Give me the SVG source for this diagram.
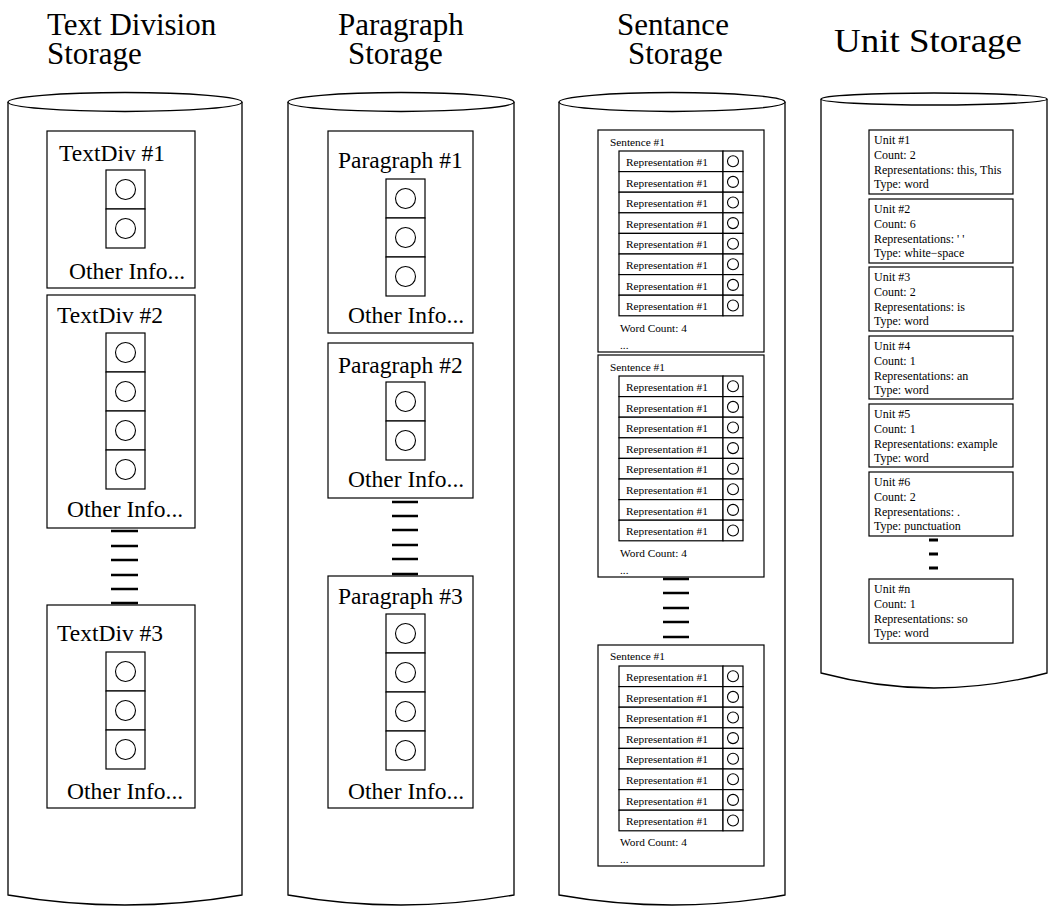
<svg xmlns="http://www.w3.org/2000/svg" xmlns:xlink="http://www.w3.org/1999/xlink" width="1056" height="910" viewBox="0 0 1056 910">
  <style>
    .cyl { fill: #fff; stroke: #000; stroke-width: 1.3; }
    .box { fill: #fff; stroke: #000; stroke-width: 1.2; }
    .cell { fill: #fff; stroke: #000; stroke-width: 1.2; }
    .ring { fill: none; stroke: #000; stroke-width: 1.1; }
    .dash { stroke: #000; stroke-width: 2.5; }
    text { font-family: "Liberation Serif", "Times New Roman", serif; fill: #000; }
    .title { font-size: 31px; }
    .lbl { font-size: 23.5px; }
    .sm { font-size: 11.3px; }
    .u { font-size: 12px; }
  </style>
  <defs>
    <!-- square slot with a circle, used in division / paragraph records -->
    <g id="slot">
      <rect class="cell" x="0" y="0" width="39" height="39"/>
      <circle class="ring" cx="19.5" cy="19.5" r="10"/>
    </g>
    <!-- one representation row of a sentence record -->
    <g id="rep">
      <rect class="cell" x="0" y="0" width="104" height="20.6"/>
      <rect class="cell" x="104" y="0" width="20" height="20.6"/>
      <text class="sm" x="7" y="15">Representation #1</text>
      <circle class="ring" cx="114" cy="10.3" r="5.5"/>
    </g>
  </defs>

  <rect width="1056" height="910" fill="#fff"/>

  <!-- column titles -->
  <g id="titles">
    <text class="title" x="47" y="35">Text Division</text>
    <text class="title" x="47" y="64">Storage</text>
    <text class="title" x="338" y="35">Paragraph</text>
    <text class="title" x="348" y="64">Storage</text>
    <text class="title" x="617" y="35">Sentance</text>
    <text class="title" x="628" y="64">Storage</text>
    <text class="title" x="834" y="52" style="font-size:33px" textLength="188" lengthAdjust="spacingAndGlyphs">Unit Storage</text>
  </g>

  <!-- storage cylinders -->
  <g id="cyl-textdiv">
    <path class="cyl" d="M8,102 L8,895 Q125,915 242,895 L242,102"/>
    <ellipse class="cyl" cx="125" cy="102" rx="117" ry="9.5"/>
  </g>
  <g id="cyl-paragraph">
    <path class="cyl" d="M288,102 L288,895 Q401,915 514,895 L514,102"/>
    <ellipse class="cyl" cx="401" cy="102" rx="113" ry="9.5"/>
  </g>
  <g id="cyl-sentence">
    <path class="cyl" d="M559,102 L559,895 Q672,915 785,895 L785,102"/>
    <ellipse class="cyl" cx="672" cy="102" rx="113" ry="9.5"/>
  </g>
  <g id="cyl-unit">
    <path class="cyl" d="M821,99 L821,673 Q934,703 1047,673 L1047,99"/>
    <ellipse class="cyl" cx="934" cy="99" rx="113" ry="6"/>
  </g>

  <!-- text division records -->
  <g id="textdiv-1">
    <rect class="box" x="47" y="131" width="148" height="157"/>
    <text class="lbl" x="59" y="161">TextDiv #1</text>
    <use href="#slot" x="106" y="170"/>
    <use href="#slot" x="106" y="209"/>
    <text class="lbl" x="69" y="279">Other Info...</text>
  </g>
  <g id="textdiv-2">
    <rect class="box" x="47" y="295" width="148" height="233"/>
    <text class="lbl" x="57" y="323">TextDiv #2</text>
    <use href="#slot" x="106" y="333"/>
    <use href="#slot" x="106" y="372"/>
    <use href="#slot" x="106" y="411"/>
    <use href="#slot" x="106" y="450"/>
    <text class="lbl" x="67" y="517">Other Info...</text>
  </g>
  <g id="textdiv-3">
    <rect class="box" x="47" y="605" width="148" height="203"/>
    <text class="lbl" x="57" y="641">TextDiv #3</text>
    <use href="#slot" x="106" y="652"/>
    <use href="#slot" x="106" y="691"/>
    <use href="#slot" x="106" y="730"/>
    <text class="lbl" x="67" y="799">Other Info...</text>
  </g>

  <!-- paragraph records -->
  <g id="paragraph-1">
    <rect class="box" x="328" y="131" width="145" height="202"/>
    <text class="lbl" x="338" y="168">Paragraph #1</text>
    <use href="#slot" x="386" y="179"/>
    <use href="#slot" x="386" y="218"/>
    <use href="#slot" x="386" y="257"/>
    <text class="lbl" x="348" y="323">Other Info...</text>
  </g>
  <g id="paragraph-2">
    <rect class="box" x="328" y="343" width="145" height="155"/>
    <text class="lbl" x="338" y="373">Paragraph #2</text>
    <use href="#slot" x="386" y="382"/>
    <use href="#slot" x="386" y="421"/>
    <text class="lbl" x="348" y="487">Other Info...</text>
  </g>
  <g id="paragraph-3">
    <rect class="box" x="328" y="576" width="145" height="232"/>
    <text class="lbl" x="338" y="604">Paragraph #3</text>
    <use href="#slot" x="386" y="614"/>
    <use href="#slot" x="386" y="653"/>
    <use href="#slot" x="386" y="692"/>
    <use href="#slot" x="386" y="731"/>
    <text class="lbl" x="348" y="799">Other Info...</text>
  </g>

  <!-- sentence records -->
  <g id="sentence-1">
    <rect class="box" x="598" y="130" width="166" height="222"/>
    <text class="sm" x="610" y="146">Sentence #1</text>
    <use href="#rep" x="619" y="151"/>
    <use href="#rep" x="619" y="171.6"/>
    <use href="#rep" x="619" y="192.2"/>
    <use href="#rep" x="619" y="212.8"/>
    <use href="#rep" x="619" y="233.4"/>
    <use href="#rep" x="619" y="254"/>
    <use href="#rep" x="619" y="274.6"/>
    <use href="#rep" x="619" y="295.2"/>
    <text class="sm" x="620" y="332">Word Count: 4</text>
    <text class="sm" x="620" y="349">...</text>
  </g>
  <g id="sentence-2">
    <rect class="box" x="598" y="355" width="166" height="222"/>
    <text class="sm" x="610" y="371">Sentence #1</text>
    <use href="#rep" x="619" y="376"/>
    <use href="#rep" x="619" y="396.6"/>
    <use href="#rep" x="619" y="417.2"/>
    <use href="#rep" x="619" y="437.8"/>
    <use href="#rep" x="619" y="458.4"/>
    <use href="#rep" x="619" y="479"/>
    <use href="#rep" x="619" y="499.6"/>
    <use href="#rep" x="619" y="520.2"/>
    <text class="sm" x="620" y="557">Word Count: 4</text>
    <text class="sm" x="620" y="574">...</text>
  </g>
  <g id="sentence-3">
    <rect class="box" x="598" y="645" width="166" height="221"/>
    <text class="sm" x="610" y="660">Sentence #1</text>
    <use href="#rep" x="619" y="666"/>
    <use href="#rep" x="619" y="686.6"/>
    <use href="#rep" x="619" y="707.2"/>
    <use href="#rep" x="619" y="727.8"/>
    <use href="#rep" x="619" y="748.4"/>
    <use href="#rep" x="619" y="769"/>
    <use href="#rep" x="619" y="789.6"/>
    <use href="#rep" x="619" y="810.2"/>
    <text class="sm" x="620" y="846">Word Count: 4</text>
    <text class="sm" x="620" y="863">...</text>
  </g>

  <!-- unit records -->
  <g id="unit-1">
    <rect class="box" x="869" y="130" width="144" height="64"/>
    <text class="u" x="874" y="144">Unit #1</text>
    <text class="u" x="874" y="159">Count: 2</text>
    <text class="u" x="874" y="174">Representations: this, This</text>
    <text class="u" x="874" y="188">Type: word</text>
  </g>
  <g id="unit-2">
    <rect class="box" x="869" y="199" width="144" height="64"/>
    <text class="u" x="874" y="213">Unit #2</text>
    <text class="u" x="874" y="228">Count: 6</text>
    <text class="u" x="874" y="243">Representations: ' '</text>
    <text class="u" x="874" y="257">Type: white−space</text>
  </g>
  <g id="unit-3">
    <rect class="box" x="869" y="267" width="144" height="64"/>
    <text class="u" x="874" y="281">Unit #3</text>
    <text class="u" x="874" y="296">Count: 2</text>
    <text class="u" x="874" y="311">Representations: is</text>
    <text class="u" x="874" y="325">Type: word</text>
  </g>
  <g id="unit-4">
    <rect class="box" x="869" y="336" width="144" height="63"/>
    <text class="u" x="874" y="350">Unit #4</text>
    <text class="u" x="874" y="365">Count: 1</text>
    <text class="u" x="874" y="380">Representations: an</text>
    <text class="u" x="874" y="394">Type: word</text>
  </g>
  <g id="unit-5">
    <rect class="box" x="869" y="404" width="144" height="63"/>
    <text class="u" x="874" y="418">Unit #5</text>
    <text class="u" x="874" y="433">Count: 1</text>
    <text class="u" x="874" y="448">Representations: example</text>
    <text class="u" x="874" y="462">Type: word</text>
  </g>
  <g id="unit-6">
    <rect class="box" x="869" y="472" width="144" height="64"/>
    <text class="u" x="874" y="486">Unit #6</text>
    <text class="u" x="874" y="501">Count: 2</text>
    <text class="u" x="874" y="516">Representations: .</text>
    <text class="u" x="874" y="530">Type: punctuation</text>
  </g>
  <g id="unit-n">
    <rect class="box" x="869" y="579" width="144" height="64"/>
    <text class="u" x="874" y="593">Unit #n</text>
    <text class="u" x="874" y="608">Count: 1</text>
    <text class="u" x="874" y="623">Representations: so</text>
    <text class="u" x="874" y="637">Type: word</text>
  </g>

  <!-- continuation marks between records -->
  <g id="connectors">
    <path class="dash" d="M111,531H138 M111,546H138 M111,560H138 M111,575H138 M111,589H138 M111,603H138"/>
    <path class="dash" d="M392,502H418 M392,516H418 M392,530H418 M392,545H418 M392,559H418 M392,574H418"/>
    <path class="dash" d="M663,579H689 M663,593H689 M663,608H689 M663,622H689 M663,637H689"/>
    <path class="dash" d="M929,540H938 M929,554H938 M929,568H938" style="stroke-width:3"/>
  </g>
</svg>
